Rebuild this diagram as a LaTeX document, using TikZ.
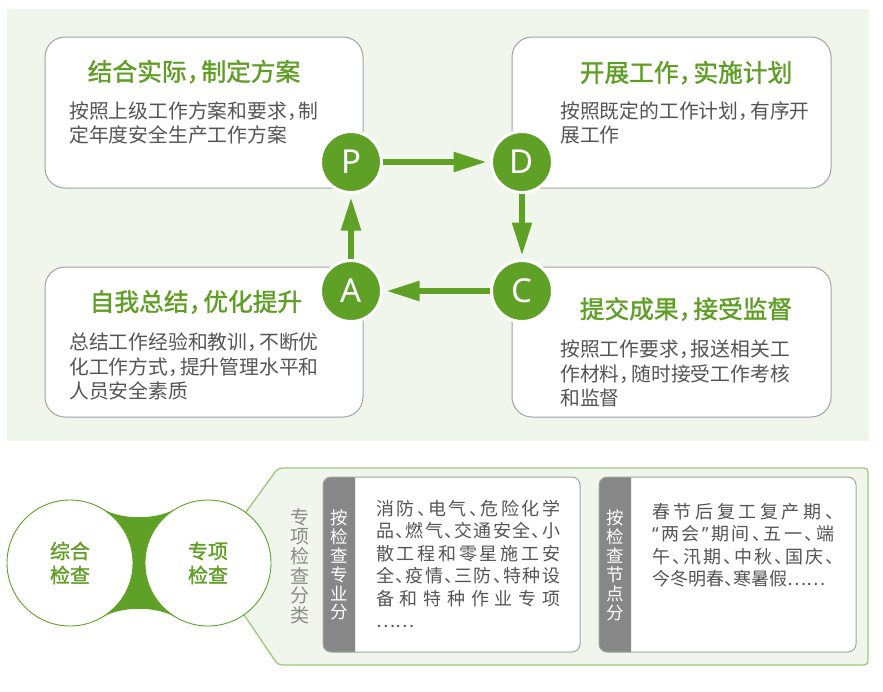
\documentclass[tikz,border=0pt]{standalone}
\usepackage{fontspec}
\setmainfont{Noto Sans CJK SC}
\newfontfamily\lat{Noto Sans}
\newfontfamily\ttlf[FakeBold=1.3]{Noto Sans CJK SC}
\usetikzlibrary{arrows.meta}
\definecolor{bgg}{HTML}{F1F6EC}
\definecolor{grn}{HTML}{5FA126}
\definecolor{ttlc}{HTML}{5E9E24}
\definecolor{txt}{HTML}{555555}
\definecolor{bord}{HTML}{A3A3A3}
\definecolor{tabg}{HTML}{878787}
\definecolor{pbord}{HTML}{9CC97B}
\definecolor{vtxt}{HTML}{8A8A8A}
\newcommand\dn{\makebox[0.5em][l]{、}}
\newcommand\cm{\makebox[0.6em][l]{，}}
\newcommand\ldq{{\lat “}}
\newcommand\rdq{{\lat ”}}
\def\spreadto#1#2{\hbox to #1{\spA#2\endsp}}
\def\spA#1#2\endsp{#1\if\relax\detokenize{#2}\relax\else\hfill\spA#2\endsp\fi}
\tikzset{
  card/.style={draw=bord, line width=1pt, fill=white, rounded corners=20pt, inner sep=0},
  ttl/.style={text=ttlc, font=\ttlf\fontsize{24.7}{24.7}\selectfont, anchor=base, inner sep=0},
  body/.style={text=txt, font=\fontsize{19.8}{24}\selectfont, anchor=base west, inner sep=0},
  letter/.style={circle, fill=grn, draw=white, line width=3pt, minimum size=61pt, inner sep=0,
    text=white, font=\lat\fontsize{33}{33}\selectfont},
  arr/.style={draw=grn, line width=5.5pt, -{Triangle[length=33pt,width=19pt]}, shorten >=3.5pt},
  bigc/.style={circle, draw=grn, line width=0.9pt, fill=white, minimum size=126pt, inner sep=0,
    text=ttlc, font=\ttlf\fontsize{20}{24}\selectfont, align=center},
  vt/.style={text=vtxt, font=\fontsize{19}{19}\selectfont, inner sep=0},
  tabt/.style={text=white, font=\fontsize{17.5}{17.5}\selectfont, inner sep=0},
  small/.style={text=txt, font=\fontsize{18}{22}\selectfont, anchor=base west, inner sep=0},
}
\begin{document}
\begin{tikzpicture}[x=1pt,y=-1pt]
\useasboundingbox (0,0) rectangle (883,691);
\fill[white] (0,0) rectangle (883,691);
% top panel
\fill[bgg] (7,9) rectangle (869,441);
\node[card, minimum width=318pt, minimum height=151pt] (cP) at (204,112.5) {};
\node[card, minimum width=319pt, minimum height=151pt] (cD) at (671.5,112.5) {};
\node[card, minimum width=318pt, minimum height=150pt] (cA) at (204,342) {};
\node[card, minimum width=319pt, minimum height=150pt] (cC) at (671.5,342) {};
% titles
\node[ttl] (tP) at (194,80.8) {结合实际\cm 制定方案};
\node[ttl] (tD) at (686,81.8) {开展工作\cm 实施计划};
\node[ttl] (tA) at (196,311) {自我总结\cm 优化提升};
\node[ttl] (tC) at (686,318.2) {提交成果\cm 接受监督};
% bodies
\node[body] (bP1) at (69,118) {按照上级工作方案和要求\cm 制};
\node[body] (bP2) at (69,142.6) {定年度安全生产工作方案};
\node[body] (bD1) at (560,118) {按照既定的工作计划\cm 有序开};
\node[body] (bD2) at (560,142.6) {展工作};
\node[body] (bA1) at (69,349.7) {总结工作经验和教训\cm 不断优};
\node[body] (bA2) at (69,374.4) {化工作方式\cm 提升管理水平和};
\node[body] (bA3) at (69,398.6) {人员安全素质};
\node[body] (bC1) at (560,356.5) {按照工作要求\cm 报送相关工};
\node[body] (bC2) at (560,381.2) {作材料\cm 随时接受工作考核};
\node[body] (bC3) at (560,405) {和监督};
% circles
\node[letter] (P) at (351,162) {P};
\node[letter] (D) at (522,162) {D};
\node[letter] (A) at (351,291) {A};
\node[letter] (C) at (522,291) {C};
\draw[arr] (P) -- (D);
\draw[arr] (D) -- (C);
\draw[arr] (C) -- (A);
\draw[arr] (A) -- (P);
% bottom
\draw[pbord, fill=bgg, line width=1.3pt, rounded corners=4pt]
  (209,563) -- (278,468) -- (868,468) -- (868,665) -- (278,665) -- cycle;
\fill[grn] (103,509) .. controls (122,520) and (156,520) .. (175,509)
  -- (175,617) .. controls (156,606) and (122,606) .. (103,617) -- cycle;
\node[bigc] (L) at (70,563) {综合\\检查};
\node[bigc] (R) at (208,563) {专项\\检查};
\foreach \c [count=\i from 0] in {专,项,检,查,分,类}
  \node[vt] (s\i) at (300,517+19.6*\i) {\c};
% box 1
\fill[white, rounded corners=8pt] (323,477) rectangle (580,652);
\begin{scope}
  \clip (320,470) rectangle (355,660);
  \fill[tabg, rounded corners=8pt] (323,477) rectangle (580,652);
\end{scope}
\draw[bord, line width=1pt, rounded corners=8pt] (323,477) rectangle (580,652);
\foreach \c [count=\i from 0] in {按,检,查,专,业,分}
  \node[tabt] (ta\i) at (339,518+18.9*\i) {\c};
\node[small] (m1) at (376,515) {\spreadto{184pt}{消防\dn 电气\dn 危险化学}};
\node[small] (m2) at (376,537.5) {\spreadto{184pt}{品\dn 燃气\dn 交通安全\dn 小}};
\node[small] (m3) at (376,560) {\spreadto{184pt}{散工程和零星施工安}};
\node[small] (m4) at (376,582.5) {\spreadto{184pt}{全\dn 疫情\dn 三防\dn 特种设}};
\node[small] (m5) at (376,605) {\spreadto{184pt}{备和特种作业专项}};
\node[small] (m6) at (376,627.5) {……};
% box 2
\fill[white, rounded corners=8pt] (599,477) rectangle (856,652);
\begin{scope}
  \clip (596,470) rectangle (631,660);
  \fill[tabg, rounded corners=8pt] (599,477) rectangle (856,652);
\end{scope}
\draw[bord, line width=1pt, rounded corners=8pt] (599,477) rectangle (856,652);
\foreach \c [count=\i from 0] in {按,检,查,节,点,分}
  \node[tabt] (tb\i) at (615,518+19*\i) {\c};
\node[small] (n1) at (652,518) {\spreadto{182pt}{春节后复工复产期\dn}};
\node[small] (n2) at (652,540.5) {\spreadto{182pt}{\ldq 两会\rdq 期间\dn 五一\dn 端}};
\node[small] (n3) at (652,563) {\spreadto{182pt}{午\dn 汛期\dn 中秋\dn 国庆\dn}};
\node[small] (n4) at (652,585.5) {今冬明春\dn 寒暑假……};
\end{tikzpicture}
\end{document}
